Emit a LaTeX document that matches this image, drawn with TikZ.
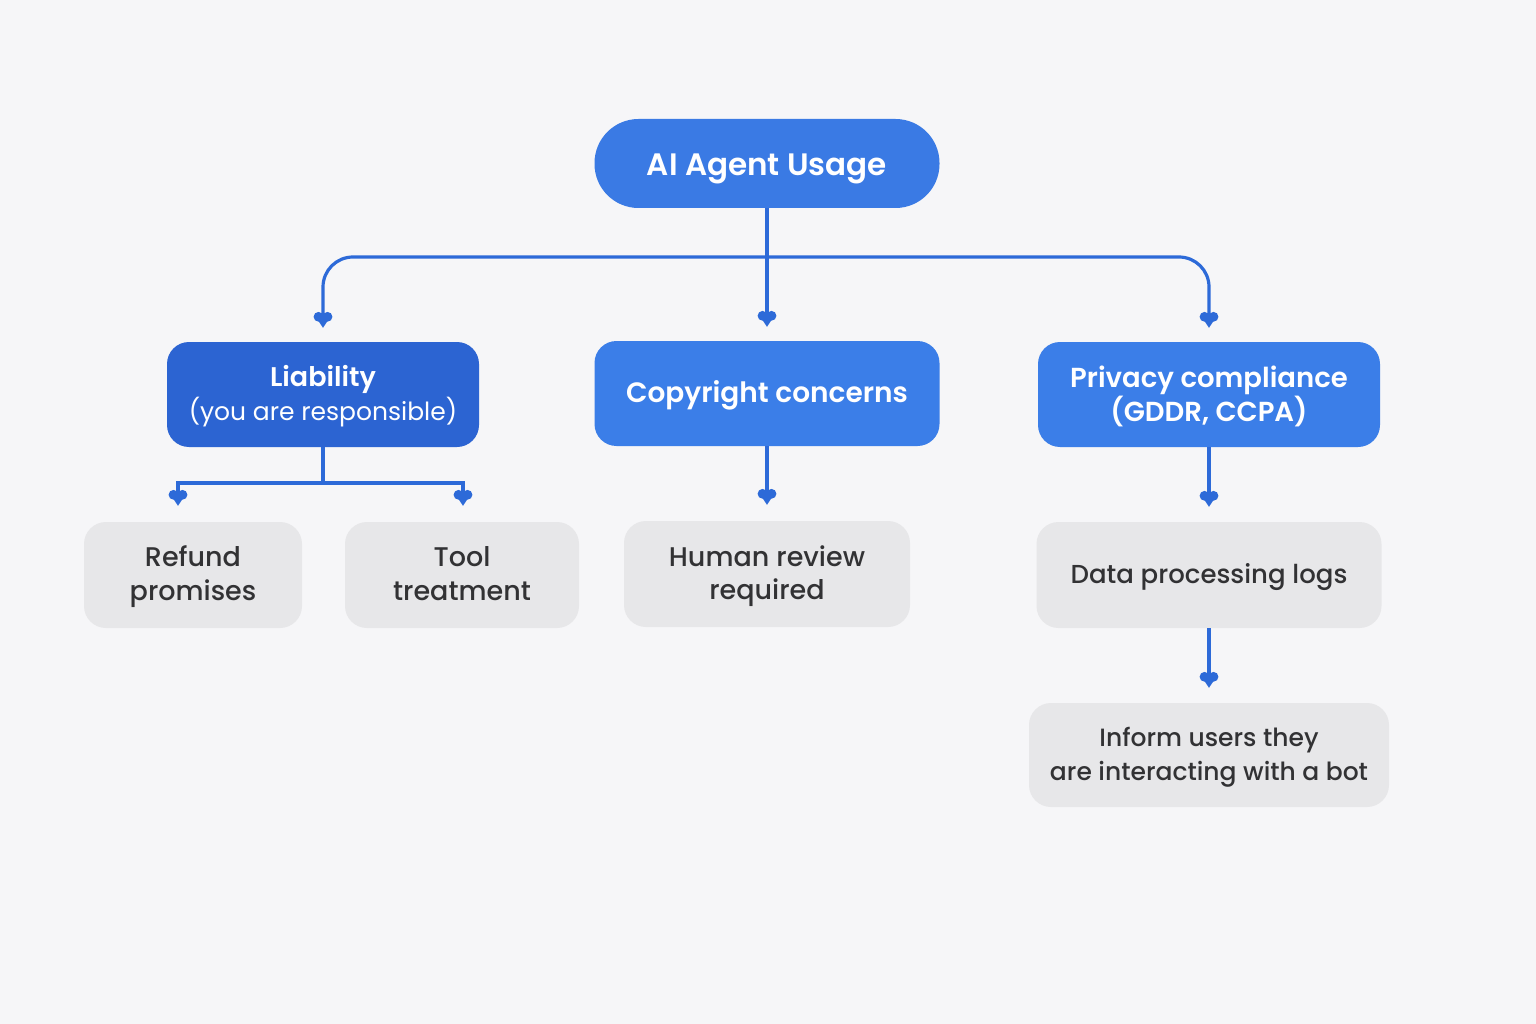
\documentclass[tikz,border=0pt]{standalone}
\usepackage{fontspec}
\setmainfont{Poppins}[BoldFont={Poppins SemiBold}]
\newfontfamily\medfont{Poppins Medium}
\usetikzlibrary{arrows.meta}
\definecolor{bg}{RGB}{246,246,248}
\definecolor{bluetop}{RGB}{58,122,228}
\definecolor{bluedark}{RGB}{44,100,210}
\definecolor{bluemid}{RGB}{59,126,232}
\definecolor{lineblue}{RGB}{45,106,216}
\definecolor{greybox}{RGB}{231,231,233}
\definecolor{greytext}{RGB}{50,50,52}
\pgfdeclarearrow{
  name = Heart,
  setup code = {
    \pgfarrowssettipend{0pt}
    \pgfarrowssetlineend{-8pt}
    \pgfarrowshullpoint{0pt}{0pt}
    \pgfarrowsupperhullpoint{-16pt}{9.5pt}
  },
  drawing code = {
    \pgfpathmoveto{\pgfqpoint{0pt}{0pt}}
    \pgfpathlineto{\pgfqpoint{-12.5pt}{8.4pt}}
    \pgfpathlineto{\pgfqpoint{-12.5pt}{-8.4pt}}
    \pgfpathclose
    \pgfusepathqfill
    \pgfpathcircle{\pgfqpoint{-11pt}{4.5pt}}{4.9pt}
    \pgfusepathqfill
    \pgfpathcircle{\pgfqpoint{-11pt}{-4.5pt}}{4.9pt}
    \pgfusepathqfill
  }
}
\tikzset{
  boxbase/.style={rounded corners=22pt, inner sep=0pt},
  bluebox/.style={boxbase},
  greyboxst/.style={boxbase, fill=greybox},
  bluetext/.style={text=white, align=center, inner sep=0pt, yshift=-2pt},
  greytextst/.style={text=greytext, align=center, inner sep=0pt, yshift=-2pt,
     font=\medfont\fontsize{26}{34}\selectfont},
  conn/.style={draw=lineblue, line width=3.2pt, -{Heart}},
  plainline/.style={draw=lineblue, line width=3.2pt}
}
\begin{document}
\begin{tikzpicture}[x=1pt,y=-1pt]
\fill[bg] (0,0) rectangle (1536,1024);
\useasboundingbox (0,0) rectangle (1536,1024);

\node[bluebox, fill=bluetop, rounded corners=44pt, minimum width=345pt, minimum height=89pt,
  label={[bluetext, yshift=-3pt, font=\bfseries\fontsize{31}{34}\selectfont]center:AI Agent Usage}] (top) at (767,163.5) {};

\node[bluebox, fill=bluedark, minimum width=312pt, minimum height=105pt,
  label={[bluetext, font=\fontsize{25}{34}\selectfont]center:{{\bfseries\fontsize{27}{34}\selectfont Liability}\\(you are responsible)}}] (liab) at (323,394.5) {};
\node[bluebox, fill=bluemid, minimum width=345pt, minimum height=105pt,
  label={[bluetext, font=\bfseries\fontsize{28}{34}\selectfont]center:Copyright concerns}] (copy) at (767,393.5) {};
\node[bluebox, fill=bluemid, minimum width=342pt, minimum height=105pt,
  label={[bluetext, font=\bfseries\fontsize{27.5}{34}\selectfont]center:{Privacy compliance\\(GDDR, CCPA)}}] (priv) at (1209,394.5) {};

\node[greyboxst, minimum width=218pt, minimum height=106pt,
  label={[greytextst, font=\medfont\fontsize{27}{34}\selectfont]center:{\strut Refund\\promises\strut}}] (refund) at (193,575) {};
\node[greyboxst, minimum width=234pt, minimum height=106pt,
  label={[greytextst, font=\medfont\fontsize{27}{34}\selectfont]center:{\strut Tool\\treatment\strut}}] (tool) at (462,575) {};
\node[greyboxst, minimum width=286pt, minimum height=106pt,
  label={[greytextst, font=\medfont\fontsize{27}{33}\selectfont]center:{\strut Human review\\required\strut}}] (human) at (767,574) {};
\node[greyboxst, minimum width=345pt, minimum height=106pt,
  label={[greytextst]center:{\strut Data processing logs\strut}}] (data) at (1209,575) {};
\node[greyboxst, minimum width=360pt, minimum height=104pt,
  label={[greytextst, font=\medfont\fontsize{25}{34}\selectfont]center:{\strut Inform users they\\are interacting with a bot\strut}}] (inform) at (1209,755) {};

% top branch
\coordinate (j1) at (767,257);
\draw[conn, shorten >=14pt] (top.south) -- (copy.north);
\draw[conn, rounded corners=30pt, shorten >=14pt] (j1) -| (liab.north);
\draw[conn, rounded corners=30pt, shorten >=14pt] (j1) -| (priv.north);

% liability branch
\coordinate (j2) at (323,483);
\draw[plainline] (liab.south) -- (j2);
\draw[conn, shorten >=16pt] (j2) -| ([xshift=-15pt]refund.north);
\draw[conn, shorten >=16pt] (j2) -| ([xshift=1pt]tool.north);

\draw[conn, shorten >=16pt] (copy.south) -- (human.north);
\draw[conn, shorten >=15pt] (priv.south) -- (data.north);
\draw[conn, shorten >=15pt] (data.south) -- (inform.north);
\end{tikzpicture}
\end{document}
